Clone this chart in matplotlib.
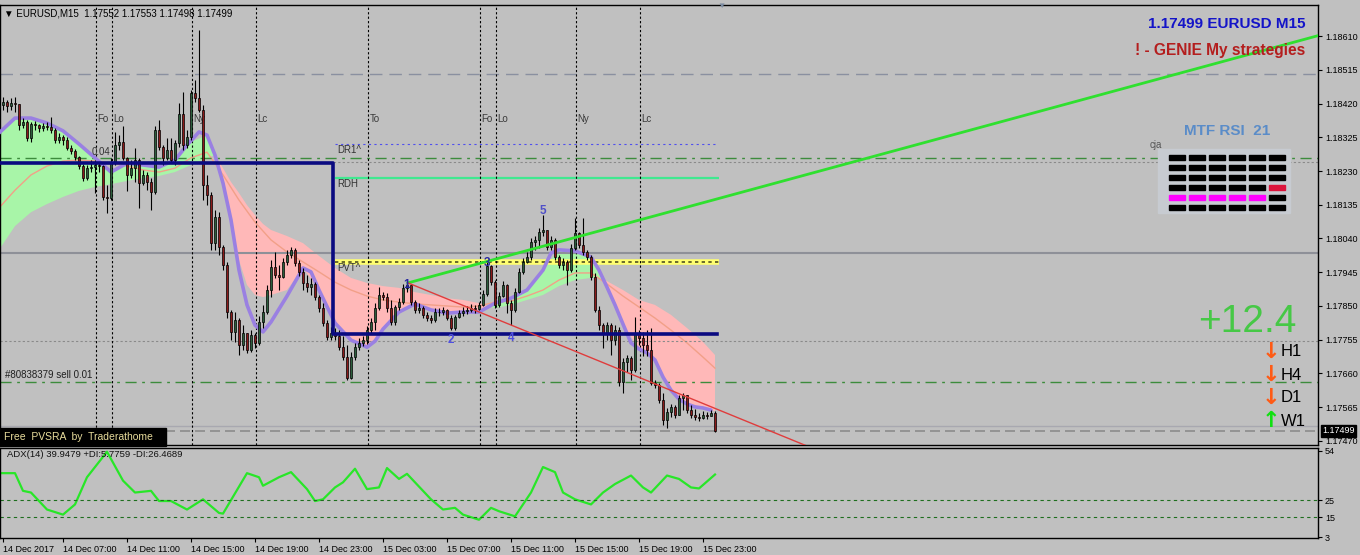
import numpy as np
import matplotlib
matplotlib.use("Agg")
import matplotlib.pyplot as plt
from matplotlib.patches import Rectangle

plt.rcParams['font.family'] = ['Liberation Sans', 'DejaVu Sans']

# prices are kept in points above 1.17000 (1 point = 0.00001)
base = 1.17
open0_pts = 1410
close_pts = [1416, 1424, 1413, 1421, 1419, 1359, 1368, 1323, 1362, 1359,
             1351, 1357, 1354, 1345, 1317, 1326, 1317, 1295, 1286, 1270,
             1244, 1210, 1238, 1241, 1247, 1244, 1157, 1154, 1255, 1303,
             1312, 1267, 1219, 1238, 1261, 1196, 1219, 1199, 1171, 1345,
             1297, 1267, 1289, 1261, 1309, 1390, 1303, 1326, 1449, 1435,
             1402, 1191, 1162, 1027, 1100, 1016, 965, 833, 777, 811,
             740, 774, 726, 768, 746, 805, 833, 895, 960, 937,
             932, 974, 993, 1008, 971, 946, 915, 903, 912, 875,
             844, 802, 763, 774, 765, 734, 706, 647, 706, 734,
             746, 754, 782, 805, 844, 881, 875, 844, 805, 847,
             861, 901, 909, 861, 839, 844, 825, 816, 811, 833,
             833, 839, 816, 788, 819, 830, 836, 839, 844, 841,
             853, 884, 963, 917, 853, 878, 909, 858, 839, 889,
             946, 974, 988, 1030, 1036, 1058, 1064, 1016, 1036, 988,
             965, 974, 951, 1013, 1055, 1022, 1002, 988, 932, 839,
             796, 774, 796, 754, 782, 636, 692, 704, 670, 774,
             760, 740, 726, 633, 628, 585, 529, 552, 566, 543,
             591, 599, 557, 543, 537, 535, 543, 540, 549, 499]
high_pts = [1430, 1438, 1430, 1435, 1438, 1413, 1379, 1374, 1368, 1371,
            1362, 1365, 1368, 1382, 1351, 1337, 1331, 1326, 1303, 1292,
            1272, 1250, 1247, 1261, 1261, 1255, 1247, 1191, 1267, 1340,
            1331, 1357, 1270, 1261, 1295, 1267, 1233, 1227, 1210, 1357,
            1374, 1303, 1323, 1323, 1317, 1421, 1452, 1345, 1458, 1486,
            1627, 1416, 1219, 1171, 1120, 1114, 1022, 974, 839, 833,
            816, 796, 768, 782, 774, 822, 853, 909, 979, 1002,
            965, 985, 1008, 1016, 1013, 979, 957, 937, 929, 917,
            881, 858, 811, 791, 788, 782, 765, 740, 720, 746,
            760, 765, 794, 816, 858, 903, 889, 886, 867, 853,
            872, 912, 915, 909, 867, 858, 850, 833, 825, 844,
            844, 847, 841, 825, 825, 839, 847, 850, 856, 853,
            861, 895, 974, 965, 923, 889, 920, 912, 867, 901,
            957, 985, 1002, 1041, 1047, 1070, 1106, 1064, 1047, 1041,
            993, 985, 979, 1024, 1098, 1058, 1098, 1008, 993, 943,
            850, 802, 805, 802, 796, 791, 704, 712, 709, 819,
            782, 777, 782, 788, 642, 633, 605, 563, 574, 571,
            599, 605, 594, 571, 560, 549, 554, 552, 557, 554]
low_pts = [1402, 1402, 1396, 1402, 1396, 1345, 1351, 1314, 1312, 1345,
           1340, 1343, 1345, 1337, 1309, 1309, 1303, 1289, 1278, 1261,
           1236, 1202, 1205, 1227, 1168, 1227, 1148, 1112, 1148, 1247,
           1289, 1261, 1174, 1210, 1199, 1126, 1191, 1176, 1120, 1165,
           1289, 1247, 1261, 1255, 1247, 1297, 1289, 1295, 1317, 1424,
           1396, 1148, 1134, 1008, 1008, 993, 951, 816, 754, 749,
           712, 726, 718, 720, 732, 740, 788, 827, 875, 929,
           895, 929, 965, 985, 963, 934, 895, 889, 881, 867,
           833, 794, 754, 754, 754, 726, 698, 642, 644, 698,
           726, 737, 743, 771, 782, 839, 867, 833, 796, 796,
           839, 856, 889, 853, 830, 830, 816, 808, 802, 805,
           822, 825, 811, 782, 782, 816, 822, 827, 833, 830,
           839, 850, 878, 909, 844, 847, 875, 830, 796, 833,
           886, 940, 971, 979, 1008, 1013, 1047, 1008, 1008, 979,
           957, 951, 909, 946, 1008, 1013, 993, 979, 923, 833,
           782, 732, 754, 712, 740, 625, 605, 664, 642, 664,
           740, 709, 709, 628, 619, 577, 515, 507, 537, 535,
           543, 557, 549, 535, 529, 526, 532, 532, 540, 495]

# fast moving average (purple)
ma_idx = [0, 4, 8, 12, 16, 20, 24, 28, 32, 36, 40, 44, 47, 50, 52, 54, 56, 58, 60, 62,
          64, 66, 68, 72, 76, 78, 80, 84, 88, 92, 94, 96, 100, 104, 108, 112, 116, 120, 124, 128,
          132, 136, 138, 140, 144, 148, 150, 152, 154, 156, 158, 160, 162, 164, 166, 168, 170, 172, 174, 176,
          178]
ma_pts = [1337, 1379, 1379, 1365, 1343, 1306, 1267, 1227, 1252, 1247, 1241, 1261, 1303, 1340, 1331, 1275, 1196, 1092, 951, 853,
          796, 777, 805, 878, 957, 946, 895, 802, 754, 734, 751, 785, 833, 856, 839, 830, 833, 833, 858, 872,
          895, 951, 999, 1008, 1005, 988, 951, 903, 853, 799, 746, 729, 718, 698, 650, 613, 588, 574, 566, 563,
          557]

# slow moving average (thin salmon line)
slow_idx = [0, 4, 8, 12, 16, 20, 24, 28, 32, 36, 40, 44, 48, 52, 56, 60, 64, 68, 72, 76,
            80, 84, 88, 92, 96, 100, 104, 108, 112, 116, 120, 124, 128, 132, 136, 140, 144, 148, 152, 156,
            160, 164, 168, 172, 176, 179]
slow_pts = [1126, 1176, 1219, 1244, 1258, 1261, 1258, 1252, 1244, 1233, 1227, 1238, 1267, 1283, 1219, 1148, 1086, 1036, 1002, 974,
            946, 917, 895, 878, 867, 861, 856, 853, 850, 847, 850, 861, 864, 878, 895, 923, 943, 943, 912, 878,
            847, 816, 782, 746, 706, 675]

# trend cloud edges
band_idx = [0, 4, 8, 12, 16, 20, 24, 28, 32, 36, 40, 44, 48, 52, 54, 56, 58, 60, 62, 64,
            66, 68, 72, 76, 80, 84, 88, 92, 96, 100, 104, 108, 112, 116, 120, 122, 124, 128, 132, 136,
            140, 144, 148, 150, 152, 156, 160, 164, 168, 172, 176, 179]
band_in_pts = [1337, 1379, 1379, 1365, 1343, 1306, 1267, 1227, 1252, 1247, 1241, 1261, 1312, 1331, 1275, 1196, 1092, 979, 909, 881,
               875, 881, 895, 957, 895, 802, 754, 734, 785, 833, 856, 839, 830, 833, 833, 850, 858, 872, 895, 951,
               1008, 1005, 988, 951, 903, 799, 729, 698, 613, 574, 563, 554]
band_out_pts = [1008, 1075, 1114, 1137, 1157, 1174, 1185, 1193, 1202, 1210, 1216, 1227, 1247, 1267, 1275, 1238, 1199, 1168, 1134, 1106,
                1081, 1064, 1047, 1027, 991, 957, 929, 915, 906, 901, 889, 881, 872, 867, 858, 850, 844, 853, 867, 881,
                906, 923, 929, 929, 920, 895, 867, 853, 825, 788, 749, 712]

# support line (navy step)
step_idx = [0, 83.5, 83.5, 179.5]
step_pts = [1253, 1253, 771, 771]

# trend lines from wave point 1
tl_idx = [102.25, 329.75]
tl_up_pts = [915, 1611]
tl_dn_idx = [102.25, 215]
tl_dn_pts = [915, 396]

wave_idx = [102, 113, 122, 128, 136]
wave_pts = [909, 754, 971, 760, 1117]
wave_lbl = ['1', '2', '3', '4', '5']
wave_col = ['#2828a0', '#5050e0', '#2828a0', '#5050e0', '#5050c8']

# levels
lvl_week = 1.18503
lvl_dr1 = 1.18306
lvl_green1 = 1.18267
lvl_dot1 = 1.18255
lvl_rdh = 1.18210
lvl_gray = 1.17999
lvl_pvt = 1.17974
lvl_dot2 = 1.17751
lvl_order = 1.17636
lvl_ask = 1.17512
lvl_bid = 1.17499

session_idx = [24, 28, 48, 64, 92, 120, 124, 144, 160]
session_lbl = ['Fo', 'Lo', 'Ny', 'Lc', 'To', 'Fo', 'Lo', 'Ny', 'Lc']

price_ticks = [1.18610, 1.18515, 1.18420, 1.18325, 1.18230, 1.18135, 1.18040,
               1.17945, 1.17850, 1.17755, 1.17660, 1.17565, 1.17470]

adx_idx = [0, 4, 6, 8, 12, 16, 19, 22, 27, 31, 34, 38, 40, 43, 47, 51, 55, 56, 62, 65,
           66, 70, 73, 77, 79, 81, 84, 86, 89, 92, 95, 97, 100, 102, 108, 111, 114, 116, 120, 123,
           125, 129, 133, 136, 139, 141, 144, 148, 151, 154, 158, 161, 163, 167, 170, 173, 175, 179]
adx_val = [40.8, 40.8, 30.4, 29.4, 19.4, 16.4, 22.4, 38.4, 53.4, 36.4, 29.4, 30.4, 24.4, 24.4, 19.4, 25.4, 17.4, 17.0, 40.8, 38.4,
           33.4, 38.4, 41.4, 31.4, 24.4, 25.4, 32.4, 35.4, 43.4, 31.4, 32.4, 43.8, 37.4, 40.4, 25.4, 19.4, 20.4, 16.4, 13.4, 20.4,
           18.4, 15.4, 29.4, 44.4, 41.4, 29.4, 25.4, 22.4, 29.4, 34.4, 39.4, 32.4, 29.4, 39.4, 37.4, 32.4, 31.8, 40.0]
adx_levels = [25, 15]
adx_ticks = [54, 25, 15, 3]

time_idx = [1, 16, 32, 48, 64, 80, 96, 112, 128, 144, 160, 176]
time_lbl = ['14 Dec 2017', '14 Dec 07:00', '14 Dec 11:00', '14 Dec 15:00', '14 Dec 19:00', '14 Dec 23:00',
            '15 Dec 03:00', '15 Dec 07:00', '15 Dec 11:00', '15 Dec 15:00', '15 Dec 19:00', '15 Dec 23:00']

rsi_colors = [['black'] * 6,
              ['black'] * 6,
              ['black'] * 6,
              ['black'] * 5 + ['#dc143c'],
              ['#ff00ff'] * 5 + ['black'],
              ['black'] * 6]

trend_lbl = ['H1', 'H4', 'D1', 'W1']
trend_dir = [-1, -1, -1, 1]


def px(v):
    return base + np.asarray(v, dtype=float) / 1e5


bg = '#c0c0c0'
fig = plt.figure(figsize=(13.6, 5.55), dpi=100, facecolor=bg)
ax = fig.add_axes([0, 0.19820, 0.96912, 0.79279], facecolor=bg)
ax2 = fig.add_axes([0, 0.030631, 0.96912, 0.162162], facecolor=bg)

ax.set_xlim(0.25, 329.75)
ax.set_ylim(1.174587, 1.186973)

# cloud
bi = np.array(band_idx, dtype=float)
b_in = px(band_in_pts)
b_out = px(band_out_pts)
ax.fill_between(bi, b_in, b_out, where=b_out <= b_in, interpolate=True,
                color='#a8f5a8', lw=0, zorder=1)
ax.fill_between(bi, b_in, b_out, where=b_out >= b_in, interpolate=True,
                color='#ffb8b8', lw=0, zorder=1)
ax.plot(slow_idx, px(slow_pts), color='#f2a088', lw=1.0, zorder=2)

# horizontal levels
ax.axhline(lvl_week, color='#8a90a0', lw=1, ls=(0, (9, 5)), zorder=2)
ax.axhline(lvl_green1, color='#3c8c3c', lw=1, ls=(0, (8, 4, 2, 4)), zorder=2)
ax.axhline(lvl_dot1, color='#8a8a8a', lw=0.8, ls=(0, (2, 2)), zorder=2)
ax.axhline(lvl_gray, color='#8e9098', lw=1.5, zorder=2)
ax.axhline(lvl_dot2, color='#8a8a8a', lw=0.8, ls=(0, (2, 2)), zorder=2)
ax.axhline(lvl_order, color='#3c8c3c', lw=1, ls=(0, (8, 4, 2, 4)), zorder=2)
ax.axhline(lvl_ask, color='#a8a8b0', lw=1, zorder=2)
ax.axhline(lvl_bid, color='#8c8c8c', lw=1.2, ls=(0, (6, 3)), zorder=2)
ax.hlines(lvl_dr1, 84, 179.75, color='#5050ee', lw=0.8, ls=(0, (2, 3)), zorder=2)
ax.hlines(lvl_rdh, 84, 180, color='#40e890', lw=1.6, zorder=2)
ax.hlines(lvl_pvt, 84, 180, color='#ffff70', lw=4, zorder=2)
ax.hlines(lvl_pvt, 84, 180, color='#505020', lw=1.2, ls=(0, (2, 2)), zorder=2)

for i in session_idx:
    ax.axvline(i + 0.25, color='black', lw=0.8, ls=(0, (2, 2)), zorder=2)
for i, s in zip(session_idx, session_lbl):
    ax.text(i + 0.6, 1.18376, s, fontsize=7, color='#3a3a3a', va='center', zorder=3)

ax.plot(ma_idx, px(ma_pts), color='#9a80e2', lw=2.6, zorder=3, solid_capstyle='round')

# candles
c = px(close_pts)
h = px(high_pts)
l = px(low_pts)
o = np.concatenate([[px(open0_pts)], c[:-1]])
idx = np.arange(len(c))
up = c >= o
body_lo = np.minimum(o, c)
body_h = np.maximum(np.abs(c - o), 0.000015)
ax.vlines(idx, np.minimum(l, body_lo), np.maximum(h, body_lo + body_h), color='black', lw=0.8, zorder=4)
ax.bar(idx, body_h, bottom=body_lo, width=0.72, color=np.where(up, '#2c5e3c', '#8b1a1a'),
       edgecolor='black', lw=0.5, zorder=5)

# lines on top
ax.plot(step_idx, px(step_pts), color='#0a0a80', lw=2.6, zorder=6)
ax.plot(tl_idx, px(tl_up_pts), color='#2fe02f', lw=2, zorder=6)
ax.plot(tl_dn_idx, px(tl_dn_pts), color='#e03c3c', lw=1, zorder=6)
for i, v, s, col in zip(wave_idx, wave_pts, wave_lbl, wave_col):
    ax.text(i, px(v), s, fontsize=8.5, color=col, ha='center', va='center', fontweight='bold', zorder=7)

ax.text(84.6, 1.18289, 'DR1^', fontsize=7, color='#333333', va='center', zorder=7)
ax.text(84.6, 1.18194, 'RDH', fontsize=7, color='#333333', va='center', zorder=7)
ax.text(84.6, 1.17957, 'PVT^', fontsize=7, color='#333333', va='center', zorder=3)
ax.text(23.2, 1.18284, '0.04', fontsize=7, color='#333333', va='center', zorder=3)
ax.text(1.5, 1.17656, '#80838379 sell 0.01', fontsize=7, color='#202020', va='center', zorder=7)

ax.yaxis.tick_right()
ax.set_yticks(price_ticks)
ax.set_yticklabels([f'{v:.5f}' for v in price_ticks])
ax.tick_params(axis='y', length=3, pad=2, labelsize=6.5, direction='out', colors='black')
ax.set_xticks([])
for sp in ax.spines.values():
    sp.set_color('black')
    sp.set_linewidth(1)

ax.annotate(f'{lvl_bid:.5f}', xy=(1.0, lvl_bid), xycoords=('axes fraction', 'data'),
            xytext=(3, 0), textcoords='offset points', fontsize=6.5, color='white', va='center',
            bbox=dict(boxstyle='square,pad=0.15', fc='black', ec='black'), annotation_clip=False)

# ADX panel
ax2.set_xlim(0.25, 329.75)
ax2.set_ylim(2.65, 55.6)
ax2.plot(adx_idx, adx_val, color='#28e628', lw=1.6, solid_joinstyle='round')
for v in adx_levels:
    ax2.axhline(v, color='#1e6e1e', lw=0.8, ls=(0, (3, 3)))
ax2.text(2, 51.5, 'ADX(14) 39.9479 +DI:5.7759 -DI:26.4689', fontsize=6.8, color='#111111', va='center')
ax2.yaxis.tick_right()
ax2.set_yticks(adx_ticks)
ax2.set_yticklabels([str(v) for v in adx_ticks])
ax2.tick_params(axis='y', length=3, pad=2, labelsize=6.5, direction='out')
ax2.set_xticks(time_idx)
ax2.set_xticklabels(time_lbl, ha='left')
ax2.tick_params(axis='x', length=3, pad=2, labelsize=6.5, direction='out')
for sp in ax2.spines.values():
    sp.set_color('black')
    sp.set_linewidth(1)

# overlay in pixel coordinates for the chart widgets
ov = fig.add_axes([0, 0, 1, 1], facecolor='none')
ov.set_xlim(0, 1360)
ov.set_ylim(555, 0)
ov.axis('off')

ov.text(4, 13, '\u25bc EURUSD,M15  1.17552 1.17553 1.17498 1.17499', fontsize=7, va='center', color='black')
ov.text(721, 6, '\u25bc', fontsize=6, color='#7a8aa0', ha='center', va='center')
ov.text(1305, 24, '1.17499 EURUSD M15', fontsize=11, fontweight='bold', color='#1414c8', ha='right', va='center')
ov.text(1305, 50, '! - GENIE My strategies', fontsize=11.2, fontweight='bold', color='#b41e1e', ha='right', va='center')

ov.add_patch(Rectangle((1158, 149), 132, 64, color='#c7cbd1', zorder=1))
ov.text(1227, 131, 'MTF RSI  21', fontsize=11, fontweight='bold', color='#5a8cc8', ha='center', va='center')
ov.text(1150, 145, 'cja', fontsize=7, color='#555555', va='center')
for r, row in enumerate(rsi_colors):
    for k, col in enumerate(row):
        ov.add_patch(Rectangle((1169 + k * 20, 155 + r * 10), 16, 4.5, color=col, zorder=2))

ov.text(1296, 322, '+12.4', fontsize=28, color='#46c846', ha='right', va='center')
for k, (s, d) in enumerate(zip(trend_lbl, trend_dir)):
    yy = 352 + k * 23
    ov.text(1271, yy, '\u2193' if d < 0 else '\u2191', fontsize=16, fontweight='bold',
            color='#ff5a14' if d < 0 else '#10e010', ha='center', va='center', family='DejaVu Sans')
    ov.text(1281, yy, s, fontsize=12, color='black', va='center')

ov.add_patch(Rectangle((0, 428), 166, 18, color='black', zorder=1))
ov.text(4, 437, 'Free  PVSRA  by  Traderathome', fontsize=7.5, color='#e8dc9c', va='center', zorder=2)

fig.savefig('out.png', dpi=100, facecolor=bg)
